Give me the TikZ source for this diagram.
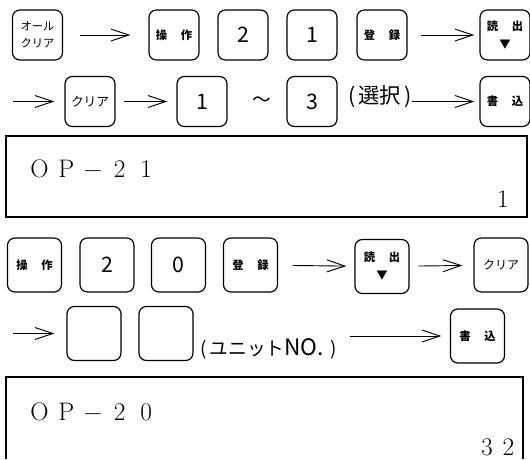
\documentclass[tikz,border=0pt]{standalone}
\usepackage{fontspec}
\newfontfamily\cjk{Noto Sans CJK JP}
\usetikzlibrary{arrows.meta}
\newcommand\fwc[1]{\makebox[20pt][c]{#1}}
\begin{document}
\begin{tikzpicture}[x=0.75pt,y=-0.75pt,
  key/.style={draw, line width=0.9pt, rounded corners=5.5pt, minimum width=37.5pt,
    minimum height=37.5pt, inner sep=0pt, align=center,
    font=\cjk\bfseries\fontsize{8.5}{13.5}\selectfont},
  bigkey/.style={key, minimum width=40.5pt, minimum height=40.5pt},
  kana/.style={font=\cjk\fontsize{8.5}{12.4}\selectfont},
  digit/.style={font=\cjk\fontsize{16}{16}\selectfont},
  arr/.style={-{Straight Barb[length=13.5pt,width=9pt]}, line width=0.7pt},
  disp/.style={line width=1.1pt},
  lcd/.style={inner sep=0pt, font=\fontsize{19}{20}\selectfont}]
\useasboundingbox (0,0) rectangle (530,459);
% row 1
\node[key,kana] (a1) at (37.5,35) {オール\\クリア};
\node[key] (a2) at (174,35) {操\hspace{1.2em}作};
\node[key,digit] (a3) at (243,35) {2};
\node[key,digit] (a4) at (312,35) {1};
\node[key] (a5) at (382,35) {登\hspace{1.2em}録};
\node[key] (a6) at (505,35) {読\hspace{1.2em}出\\▼};
\draw[arr, shorten <=12.75pt, shorten >=13.5pt] (a1) -- (a2);
\draw[arr, shorten <=9.75pt, shorten >=3.75pt] (a5) -- (a6);
% row 2
\coordinate (s2) at (13,101.5);
\node[key,kana,font=\cjk\fontsize{9.5}{12}\selectfont] (b1) at (90,101.5) {クリア};
\node[key,digit] (b2) at (202,101.5) {1};
\node[inner sep=0pt, font=\cjk\fontsize{14}{14}\selectfont] (tl) at (262,102) {～};
\node[key,digit] (b3) at (312,101.5) {3};
\node[inner sep=0pt, font=\cjk\fontsize{16}{16}\selectfont] (sel) at (380,97) {(\kern2pt選択\kern3pt)};
\node[key] (b4) at (505,101.5) {書\hspace{1.2em}込};
\draw[arr, shorten >=7.5pt] (s2) -- (b1);
\draw[arr, shorten <=6pt, shorten >=6.75pt] (b1) -- (b2);
\draw[arr, shorten >=3.75pt] (sel.east |- b4) -- (b4);
% display 1
\draw[disp] (6,136) rectangle (527,217);
\node[lcd, anchor=base west] (op1) at (26,178) {\fwc{O}\fwc{P}\fwc{−}\fwc{2}\fwc{1}};
\node[lcd, anchor=base] (v1) at (503,208) {1};
% row 3
\node[bigkey] (c1) at (34.5,265) {操\hspace{1.2em}作};
\node[bigkey,digit] (c2) at (107,265) {2};
\node[bigkey,digit] (c3) at (178.5,265) {0};
\node[bigkey] (c4) at (250.5,265) {登\hspace{1.2em}録};
\node[bigkey] (c5) at (382,266.5) {読\hspace{1.2em}出\\▼};
\node[bigkey,kana,font=\cjk\fontsize{9}{12}\selectfont] (c6) at (501,265) {クリア};
\draw[arr, shorten <=10.9pt, shorten >=6pt] (c4) -- (c5);
\draw[arr, shorten <=6.75pt, shorten >=8.25pt] (c5) -- (c6);
% row 4
\coordinate (s4) at (13,333.5);
\node[bigkey] (d1) at (94,333.5) {};
\node[bigkey] (d2) at (166,333.5) {};
\node[inner sep=0pt, anchor=west, font=\cjk\fontsize{14}{14}\selectfont] (unit) at (200,349) {(\,ユニット{\fontsize{17}{17}\selectfont NO.}\,\,)};
\node[bigkey] (d3) at (477.5,336) {書\hspace{1.2em}込};
\draw[arr, shorten >=9pt] (s4) -- (d1);
\draw[arr, shorten <=9.75pt, shorten >=6.4pt] (unit.east |- d3) -- (d3);
% display 2
\draw[disp] (6,459) -- (6,377) -- (523,377) -- (523,459);
\node[lcd, anchor=base west] (op2) at (26,420) {\fwc{O}\fwc{P}\fwc{−}\fwc{2}\fwc{0}};
\node[lcd, anchor=base] (v2) at (497.75,455) {3\hspace{7.5pt}2};
\end{tikzpicture}
\end{document}
